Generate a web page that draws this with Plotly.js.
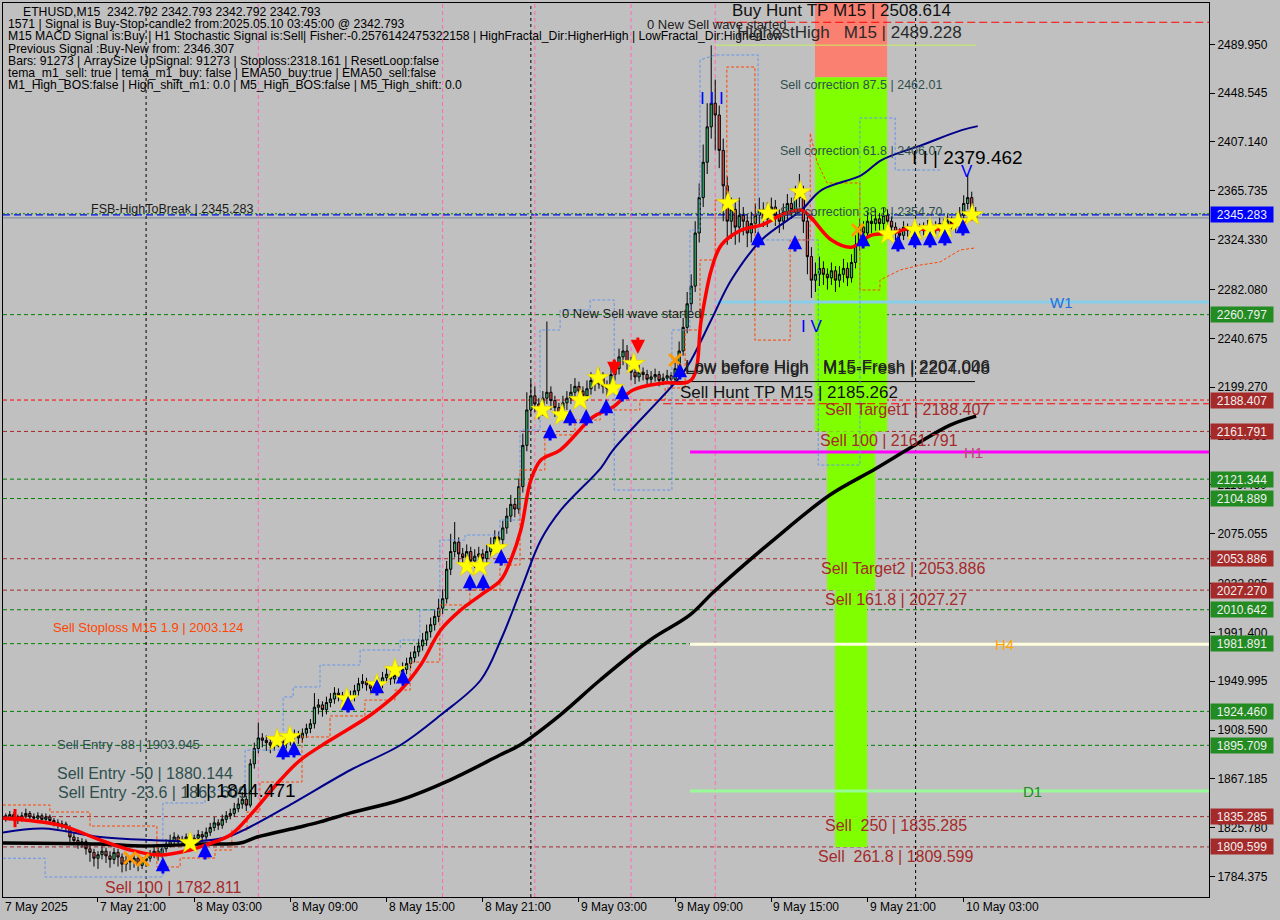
<!DOCTYPE html>
<html><head><meta charset="utf-8">
<script src="https://cdn.plot.ly/plotly-3.0.1.min.js"></script>
<style>html,body{margin:0;padding:0;background:#c0c0c0;}#chart{width:1280px;height:920px;}</style>
</head><body><div id="chart"></div>
<script>
// ---------- candles (M15 bars, bar 0 = 7 May 15:00) ----------
const close = [1836,1834,1837,1835,1833,1836,1838,1835,1834,1836,1833,1835,
1832,1830,1828,1829,1826,1818,1815,1812,1814,1808,1805,1800,1803,1806,
1802,1799,1805,1801,1795,1798,1797,1800,1794,1798,1800,1804,1806,1803,1808,
1812,1815,1818,1814,1816,1818,1815,1817,1820,1818,1822,
1826,1830,1828,1833,1836,1838,1842,1846,1850,1845,1880,1893,1902,
1900,1898,1896,1899,1901,1897,1900,1903,1905,1902,1906,1910,1914,1928,1930,1926,
1932,1935,1940,1938,1936,1934,1937,1942,1948,1950,1947,1944,1945,1948,
1953,1956,1952,1955,1958,1960,1965,1970,1975,1980,1985,1992,1998,2005,2012,2020,
2045,2060,2068,2058,2055,2060,2052,2056,2058,2054,2060,2066,2072,2070,
2080,2090,2100,2096,2115,2150,2180,2192,2185,2180,2190,2195,2188,2182,2178,2186,
2190,2195,2200,2196,2192,2198,2205,2202,2208,2200,2198,2210,2215,2225,2230,2220,2212,
2208,2212,2210,2206,2208,2210,2205,2207,2209,2206,2215,2230,2250,2270,2285,
2330,2360,2390,2420,2440,2430,2400,2370,2340,2350,
2335,2345,2340,2330,2338,2345,2350,2342,2348,2352,2345,2340,2348,2355,2350,2360,2365,
2340,2310,2290,2295,2300,2295,2292,2298,2290,2295,2300,2292,
2305,2320,2335,2330,2340,2338,2342,2338,2345,2340,2335,2330,2328,2335,2332,2330,
2335,2332,2334,2336,2333,2335,2338,2336,2340,2338,2335,2345,2355,2360,2348,2342.793];
const open = [1835,1836,1834,1837,1835,1833,1836,1838,1835,1834,1836,1833,
1835,1832,1830,1828,1829,1826,1818,1815,1812,1814,1808,1805,1800,1803,
1806,1802,1799,1805,1801,1795,1798,1797,1800,1794,1798,1800,1804,1806,1803,
1808,1812,1815,1818,1814,1816,1818,1815,1817,1820,1818,
1822,1826,1830,1828,1833,1836,1838,1842,1846,1850,1845,1880,1893,
1902,1900,1898,1896,1899,1901,1897,1900,1903,1905,1902,1906,1910,1914,1928,1930,
1926,1932,1935,1940,1938,1936,1934,1937,1942,1948,1950,1947,1944,1945,
1948,1953,1956,1952,1955,1958,1960,1965,1970,1975,1980,1985,1992,1998,2005,2012,
2020,2045,2060,2068,2058,2055,2060,2052,2056,2058,2054,2060,2066,2072,
2070,2080,2090,2100,2096,2115,2150,2180,2192,2185,2180,2190,2195,2188,2182,2178,
2186,2190,2195,2200,2196,2192,2198,2205,2202,2208,2200,2198,2210,2215,2225,2230,2220,
2212,2208,2212,2210,2206,2208,2210,2205,2207,2209,2206,2215,2230,2250,2270,
2285,2330,2360,2390,2420,2440,2430,2400,2370,2340,
2350,2335,2345,2340,2330,2338,2345,2350,2342,2348,2352,2345,2340,2348,2355,2350,2360,
2365,2340,2310,2290,2295,2300,2295,2292,2298,2290,2295,2300,
2292,2305,2320,2335,2330,2340,2338,2342,2338,2345,2340,2335,2330,2328,2335,2332,
2330,2335,2332,2334,2336,2333,2335,2338,2336,2340,2338,2335,2345,2355,2360,2348];
const high = [1839,1838,1840,1839,1837,1839,1842,1840,1838,1839,1838,1838,
1837,1834,1833,1832,1831,1828,1821,1818,1817,1816,1811,1808,1806,1810,
1809,1806,1809,1808,1804,1802,1801,1804,1803,1801,1804,1807,1810,1809,1812,
1816,1820,1822,1820,1819,1821,1820,1820,1824,1823,1826,
1830,1835,1833,1837,1840,1842,1847,1851,1856,1853,1884,1898,1915,
1906,1904,1902,1903,1906,1904,1905,1908,1909,1908,1910,1914,1918,1940,1935,1933,
1937,1940,1945,1944,1941,1939,1942,1947,1953,1956,1953,1950,1950,1953,
1958,1962,1959,1960,1963,1966,1970,1975,1980,1986,1991,1998,2004,2011,2020,2028,
2052,2075,2085,2072,2063,2066,2064,2062,2064,2062,2066,2072,2078,2077,
2086,2097,2108,2105,2122,2160,2195,2205,2200,2190,2196,2255,2200,2192,2186,2192,
2196,2202,2207,2204,2200,2205,2212,2209,2215,2212,2205,2218,2222,2232,2240,2235,2225,
2216,2218,2216,2214,2213,2215,2213,2211,2214,2212,2220,2238,2258,2280,2295,
2340,2372,2405,2440,2489,2460,2438,2410,2378,2360,
2356,2360,2352,2346,2348,2355,2360,2356,2356,2360,2358,2350,2355,2363,2360,2370,2380,
2370,2345,2318,2305,2310,2306,2300,2305,2302,2302,2308,2305,
2312,2328,2342,2340,2348,2346,2350,2347,2352,2350,2344,2339,2334,2340,2338,2336,
2340,2338,2339,2341,2339,2340,2343,2342,2346,2344,2342,2352,2362,2380,2365,2352];
const low = [1831,1831,1832,1832,1829,1831,1834,1832,1831,1832,1830,1831,
1829,1827,1825,1825,1822,1812,1811,1808,1809,1803,1797,1793,1791,1799,
1796,1792,1795,1793,1788,1789,1790,1792,1789,1791,1794,1797,1800,1798,1800,
1805,1809,1812,1810,1811,1813,1811,1812,1814,1814,1815,
1819,1823,1824,1825,1830,1833,1835,1839,1842,1840,1843,1876,1889,
1894,1891,1889,1891,1894,1891,1893,1896,1899,1897,1898,1902,1906,1910,1922,1920,
1922,1928,1931,1933,1931,1929,1930,1933,1938,1944,1942,1939,1940,1941,
1944,1949,1947,1948,1951,1953,1956,1961,1966,1971,1976,1980,1987,1993,2000,2007,
2016,2040,2055,2050,2047,2049,2045,2046,2050,2047,2049,2055,2060,2063,
2066,2075,2085,2089,2092,2110,2145,2175,2178,2172,2175,2185,2180,2174,2170,2173,
2180,2185,2190,2189,2186,2188,2193,2196,2198,2194,2192,2195,2205,2210,2218,2214,2205,
2202,2204,2205,2201,2202,2204,2200,2201,2203,2200,2202,2211,2226,2245,2264,
2280,2322,2352,2380,2410,2400,2385,2340,2320,2325,
2320,2322,2328,2318,2322,2330,2336,2335,2335,2340,2336,2330,2333,2340,2342,2345,2352,
2330,2295,2275,2280,2285,2286,2282,2286,2280,2284,2288,2285,
2288,2300,2315,2322,2325,2330,2332,2331,2333,2333,2328,2324,2322,2324,2327,2325,
2326,2327,2328,2330,2328,2329,2331,2331,2332,2333,2330,2332,2340,2350,2342,2340];
const barIdx = close.map((_, i) => i);

// ---------- indicator lines (bar index, price) ----------
const redX = [0.3,14.5,24.5,32,39.5,47,50.8,57,62,69.5,74.5,82,92,99.5,104.5,109.5,114.5,119.5,124.5,127,129.5,132,134.5,139.3,147.5,152.5,157.5,165,172,174.5,177,179.5,184.5,189.5,194.5,199.5,202,207,212,217,222,227,232,237,242.5];
const redY = [1834,1828.1,1815.5,1807,1802.7,1807,1811.2,1819.7,1836.6,1866.3,1883.3,1900.2,1921.4,1942.6,1963.8,1993.5,2010.4,2023.1,2035.8,2052.8,2078.2,2120.6,2137.5,2146,2174,2182.5,2196.9,2202.8,2205.4,2256,2298.5,2319.7,2332.4,2336.6,2345.1,2349.4,2342.6,2324,2318,2328.2,2329.9,2334.2,2332.5,2336.7,2342.6];
const navyX = [0.3,10.3,24.5,37,49.5,56.2,61.9,72.7,87,99.5,109.5,119.5,124.5,129.5,134.5,139.5,149.5,152.5,169.2,172,177,182,189.5,199.5,204.5,214.5,219.5,229.5,239.5,243.5];
const navyY = [1821.8,1825.2,1818,1815.5,1814.6,1818,1826.5,1846.8,1874.8,1896,1921.4,1951.1,1985,2027.4,2069.7,2095.2,2131,2146,2208,2222.3,2256.2,2290.1,2324,2349.4,2366.4,2379.1,2391.8,2404.5,2417.2,2420.6];
const blackX = [0.3,24.5,35.2,49.5,59.5,63.7,74.4,79.4,87,99.4,111.8,124.3,129.3,139.3,149.3,161.8,171.7,177.6,192.5,206.6,217.9,226.6,236.6,243.1];
const blackY = [1812.9,1812,1810.4,1812,1812.9,1818,1826.5,1830.8,1838.5,1849.4,1866.3,1887.5,1896,1921.4,1951.1,1985,2006.2,2025.7,2069.7,2107.9,2129.9,2147.7,2167.2,2174.8];
const blueStepX = [0.3,10.8,10.8,40.2,40.2,50.7,50.7,60.7,60.7,70.2,70.2,72.7,72.7,79.4,79.4,89.4,89.4,99.4,99.4,104.3,104.3,109.3,109.3,115.6,115.6,124.3,124.3,129.3,129.3,134.3,134.3,139.3,139.3,146.8,146.8,152.8,152.8,167.2,167.2,171.7,171.7,174.2,174.2,178,188.7,188.7,203.7,203.7,214.1,214.1,222.9,222.9,234.1];
const blueStepY = [1800,1800,1784.1,1784.1,1846.8,1846.8,1857.9,1857.9,1891.7,1891.7,1936.7,1936.7,1945.2,1945.2,1963.8,1963.8,1976.5,1976.5,1985,1985,2010.4,2010.4,2069.7,2069.7,2074,2074,2086.7,2086.7,2163,2163,2247.8,2247.8,2264.7,2264.7,2273.2,2273.2,2112.1,2112.1,2247.8,2247.8,2332.5,2332.5,2476.6,2480.9,2480.9,2324.1,2324.1,2133.3,2133.3,2427.5,2427.5,2383.4,2383.4];
const orangeStepX = [0.3,12,12,22,22,38.7,38.7,44.5,44.5,53.2,53.2,57.4,57.4,61.2,61.2,64.4,64.4,74.9,74.9,81.9,81.9,90.6,90.6,98.1,98.1,101.9,101.9,109.3,109.3,116.8,116.8,124.3,124.3,129.3,129.3,135.5,135.5,143,143,149.3,149.3,159.2,159.2,165.5,165.5,170.5,170.5,174.2,174.2,178,178,180.9,180.9,187.9,187.9,196.7,196.7,201.7,201.7,203.4,205.9,214.1,214.1,219.1,219.1,224.1,229.1,234.1,239.1,242.8];
const orangeStepY = [1845.1,1845.1,1839.2,1839.2,1827.3,1827.3,1792.6,1792.6,1800.2,1800.2,1807,1807,1823.9,1823.9,1839.2,1839.2,1864.6,1864.6,1902.8,1902.8,1920.6,1920.6,1934.1,1934.1,1942.6,1942.6,1966.3,1966.3,2014.7,2014.7,2027.4,2027.4,2048.6,2048.6,2129.1,2129.1,2158.8,2158.8,2171.5,2171.5,2180,2180,2188.4,2188.4,2198.6,2198.6,2247.8,2247.8,2307.1,2307.1,2357.9,2357.9,2470.7,2470.7,2239.2,2239.2,2324.1,2324.1,2414.8,2390.2,2372.4,2372.4,2281.7,2281.7,2290.1,2298.6,2302.8,2305.4,2315.6,2317.3];

// ---------- signal markers ----------
const starX = [47,68.7,71.9,86.1,93.6,98.1,116.1,119.3,123.6,134.8,139.8,144.3,148.8,152.5,157.7,181.2,191.2,199.2,221.1,227.8,231.6,235.3,238.6,242.1];
const starY = [1812.9,1900.2,1902.8,1935,1946.9,1959.6,2047.7,2047.7,2063,2180,2175.7,2188.4,2207.1,2198.6,2219,2355.4,2346.9,2364.7,2329.1,2332.5,2333.4,2334.2,2339.3,2345.2];
const upX = [40.2,50.7,70.2,72.9,86.4,93.6,100.1,116.8,120.1,124.6,136.8,141.8,145.8,150.8,154.8,169.2,188.7,197.9,214.9,223.6,227.8,231.6,235.3,239.8];
const upY = [1793.4,1805.3,1890,1891.7,1929.9,1944.3,1952.5,2033.3,2033.3,2054.5,2160.4,2173.1,2173.1,2181.6,2193.5,2212.2,2324.1,2320.7,2323.2,2320.7,2324.1,2324.1,2325.8,2334.2];
const downX = [152.8,158.7];
const downY = [2216.4,2235.1];
const crossX = [32,35.2,168,213.6];
const crossY = [1800.2,1798.5,2222.3,2332.5];
const plusX = [3.3];
const plusY = [1834];

// ---------- horizontal levels ----------
const levelPrice = [2345.283,2260.797,2188.407,2161.791,2121.344,2104.889,2053.886,2027.270,2010.642,1981.891,1924.460,1895.709,1835.285,1809.599];
const levelKind  = ['blue','green','red','brown','green','green','brown','brown','green','green','green','green','brown','brown'];
const bidPrice = 2342.793;
const prevSignal = 2346.307;
const sellHuntTP = 2185.262;
const highestHigh = 2489.228;
const lowBeforeHigh = 2204.048;
const buyHuntTP = 2508.614;
const tfLevelName = ['W1','H1','H4','D1'];
const tfLevelPrice = [2271.5,2144.35,1981.3,1857.0];
const zonePriceLo = [2462.01,2161.791,2027.27,1809.599];
const zonePriceHi = [2560,2462.01,2161.791,2027.27];

// ---------- axes ----------
const yTicks = [2489.950,2448.545,2407.140,2365.735,2324.330,2282.080,2240.675,2199.270,2157.865,2116.460,2075.055,2032.805,1991.400,1949.995,1908.590,1867.185,1825.780,1784.375];
const xTickBars = [0,24,48,72,96,120,144,168,192,216,240];
const xTickText = ['7 May 2025','7 May 21:00','8 May 03:00','8 May 09:00','8 May 15:00','8 May 21:00','9 May 03:00','9 May 09:00','9 May 15:00','9 May 21:00','10 May 03:00'];
const daySepBars = [36,132,228];
const signalBars = [64,110,133,157,178];

const infoLines = [
 'ETHUSD,M15  2342.792 2342.793 2342.792 2342.793',
 '1571 | Signal is Buy-Stop-candle2 from:2025.05.10 03:45:00 @ 2342.793',
 'M15 MACD Signal is:Buy | H1 Stochastic Signal is:Sell| Fisher:-0.2576142475322158 | HighFractal_Dir:HigherHigh | LowFractal_Dir:HigherLow',
 'Previous Signal :Buy-New from: 2346.307',
 'Bars: 91273 | ArraySize UpSignal: 91273 | Stoploss:2318.161 | ResetLoop:false',
 'tema_m1_sell: true | tema_m1_buy: false | EMA50_buy:true | EMA50_sell:false',
 'M1_High_BOS:false | High_shift_m1: 0.0 | M5_High_BOS:false | M5_High_shift: 0.0'
];

// ---------- build ----------
const FONT = 'Liberation Sans, Arial, sans-serif';
const PL = 3, PR = 1209, PT = 3, PB = 897;
const PX = x => (x - PL) / (PR - PL);
const PY = y => 1 - (y - PT) / (PB - PT);
const NB = s => s.replace(/ /g, '\u00a0');

const traces = [];
traces.push({type:'candlestick', x:barIdx, open:open, high:high, low:low, close:close,
  increasing:{line:{color:'#000000', width:1}, fillcolor:'#3CB371'},
  decreasing:{line:{color:'#000000', width:1}, fillcolor:'#D9534F'},
  whiskerwidth:0, hoverinfo:'skip'});
traces.push({type:'scatter', mode:'lines', x:blueStepX, y:blueStepY, line:{color:'#6495ED', width:1, dash:'3px,2px'}, hoverinfo:'skip'});
traces.push({type:'scatter', mode:'lines', x:orangeStepX, y:orangeStepY, line:{color:'#FF4500', width:1, dash:'3px,2px'}, hoverinfo:'skip'});
traces.push({type:'scatter', mode:'lines', x:blackX, y:blackY, line:{color:'#000000', width:3.5, shape:'spline'}, hoverinfo:'skip'});
traces.push({type:'scatter', mode:'lines', x:navyX, y:navyY, line:{color:'#00008B', width:2, shape:'spline'}, hoverinfo:'skip'});
traces.push({type:'scatter', mode:'lines', x:redX, y:redY, line:{color:'#FF0000', width:3.5, shape:'spline'}, hoverinfo:'skip'});
traces.push({type:'scatter', mode:'markers', x:crossX, y:crossY, marker:{symbol:'x-thin', size:12, color:'#FF9900', line:{color:'#FF9900', width:3}}, hoverinfo:'skip'});
traces.push({type:'scatter', mode:'markers', x:plusX, y:plusY, marker:{symbol:'cross-thin', size:13, color:'#FF0000', line:{color:'#FF0000', width:3}}, hoverinfo:'skip'});
traces.push({type:'scatter', mode:'markers', x:starX, y:starY, marker:{symbol:'star', size:17, color:'#FFFF00', line:{color:'#E0C000', width:0.5}}, hoverinfo:'skip'});

const shapes = [];
const lineStyle = {
  blue:{color:'#0000FF', dash:'7px,4px', width:1.2},
  green:{color:'#008000', dash:'4px,3px', width:1},
  red:{color:'#FF0000', dash:'4px,3px', width:1},
  brown:{color:'#A52A2A', dash:'4px,3px', width:1}
};
const boxColor = {blue:'#0000FF', green:'#228B22', red:'#A52A2A', brown:'#A52A2A'};
levelPrice.forEach((p, i) => {
  shapes.push({type:'line', layer:'below', xref:'paper', x0:0, x1:1, yref:'y', y0:p, y1:p, line:lineStyle[levelKind[i]]});
});
shapes.push({type:'line', layer:'below', xref:'paper', x0:0, x1:1, yref:'y', y0:prevSignal, y1:prevSignal, line:{color:'#008000', width:1, dash:'2px,2px'}});
shapes.push({type:'line', layer:'below', xref:'paper', x0:0, x1:1, yref:'y', y0:bidPrice, y1:bidPrice, line:{color:'#778899', width:1}});
daySepBars.forEach(b => shapes.push({type:'line', layer:'below', xref:'x', x0:b, x1:b, yref:'paper', y0:0, y1:1, line:{color:'#000000', width:1, dash:'3px,3px'}}));
signalBars.forEach(b => shapes.push({type:'line', layer:'below', xref:'x', x0:b, x1:b, yref:'paper', y0:0, y1:1, line:{color:'#FF69B4', width:1, dash:'4px,3px'}}));
const zoneX = [[202.9,220.9],[202.9,220.9],[205.9,217.9],[207.9,215.9]];
const zoneCol = ['#FA8072','#7FFF00','#7FFF00','#7FFF00'];
zonePriceLo.forEach((lo, i) => {
  shapes.push({type:'rect', layer:'below', xref:'x', yref:'y', x0:zoneX[i][0], x1:zoneX[i][1], y0:lo, y1:zonePriceHi[i], fillcolor:zoneCol[i], line:{width:0}});
});
shapes.push({type:'line', layer:'below', xref:'x', x0:165, x1:301.2, yref:'y', y0:sellHuntTP, y1:sellHuntTP, line:{color:'#FF0000', width:1, dash:'8px,4px'}});
shapes.push({type:'line', layer:'below', xref:'x', x0:178, x1:301.2, yref:'y', y0:buyHuntTP, y1:buyHuntTP, line:{color:'#FF0000', width:1, dash:'8px,4px'}});
shapes.push({type:'line', layer:'below', xref:'x', x0:178, x1:243, yref:'y', y0:highestHigh, y1:highestHigh, line:{color:'#C8F060', width:1}});
shapes.push({type:'line', layer:'below', xref:'x', x0:167.2, x1:242.8, yref:'y', y0:lowBeforeHigh, y1:lowBeforeHigh, line:{color:'#000000', width:1}});
const tfColor = ['#87CEEB','#FF00FF','#FFFFE0','#98FB98'];
const tfStart = [178,171.7,171.7,171.7];
tfLevelPrice.forEach((p, i) => {
  shapes.push({type:'line', layer:'below', xref:'x', x0:tfStart[i], x1:301.2, yref:'y', y0:p, y1:p, line:{color:tfColor[i], width:3}});
});

const ann = [];
// signal arrows (stem + head), anchored at the data points
upX.forEach((x, i) => ann.push({x:x, y:upY[i], xref:'x', yref:'y', text:'', showarrow:true, ax:0, ay:18, yshift:9,
  arrowhead:2, arrowsize:0.95, arrowwidth:3, arrowcolor:'#0000FF', standoff:0, startstandoff:0}));
downX.forEach((x, i) => ann.push({x:x, y:downY[i], xref:'x', yref:'y', text:'', showarrow:true, ax:0, ay:-18, yshift:-9,
  arrowhead:2, arrowsize:0.95, arrowwidth:3, arrowcolor:'#FF0000', standoff:0, startstandoff:0}));

function addText(text, x, y, size, color){
  ann.push({text:NB(text), xref:'paper', yref:'paper', x:PX(x), y:PY(y), xanchor:'left', yanchor:'middle',
    showarrow:false, font:{family:FONT, size:size, color:color}});
}
infoLines.forEach((t, i) => addText(t, i === 0 ? 21 : 6, 12 + i * 12.2, 12.2, '#000000'));
addText('Buy Hunt TP M15 | 2508.614', 730, 10, 17, '#111111');
addText('0 New Sell wave started', 645, 24, 13, '#222222');
addText('HighestHigh   M15 | 2489.228', 735, 33, 17, '#2a2a2a');
addText('Sell correction 87.5 | 2462.01', 778, 85, 12.5, '#2F4F4F');
addText('Sell correction 61.8 | 2406.07', 778, 151, 12.5, '#2F4F4F');
addText('Sell correction 38.2 | 2354.70', 778, 212, 12.5, '#2F4F4F');
addText('I I | 2379.462', 910, 158, 19, '#000000');
addText('I I I', 698, 98, 17, '#0000FF');
addText('V', 959, 172, 17, '#0000FF');
addText('I V', 799, 326, 17, '#0000FF');
addText('0 New Sell wave started', 560, 314, 13, '#222222');
addText('Low before High   M15-Fresh | 2207.006', 683, 366, 17, '#222222');
addText('Low before High   M15-Fresh | 2204.048', 683, 369, 17, '#222222');
addText('Sell Hunt TP M15 | 2185.262', 678, 392, 17, '#111111');
addText('Sell Target1 | 2188.407', 823, 409, 16, '#A52A2A');
addText('Sell 100 | 2161.791', 818, 440, 16, '#A52A2A');
addText('Sell Target2 | 2053.886', 819, 568, 16, '#A52A2A');
addText('Sell 161.8 | 2027.27', 823, 599, 16, '#A52A2A');
addText('Sell  250 | 1835.285', 823, 825, 16, '#A52A2A');
addText('Sell  261.8 | 1809.599', 816, 856, 16, '#A52A2A');
addText('Sell Stoploss M15 1.9 | 2003.124', 51, 627, 13, '#FF4500');
addText('Sell Entry -88 | 1903.945', 55, 744, 13, '#2F4F4F');
addText('Sell Entry -50 | 1880.144', 55, 773, 16, '#2F4F4F');
addText('Sell Entry -23.6 | 1863.609', 56, 792, 16, '#2F4F4F');
addText('I I | 1844.471', 183, 790, 19, '#000000');
addText('Sell 100 | 1782.811', 103, 887, 16, '#A52A2A');
addText('FSB-HighToBreak | 2345.283', 89, 209, 12.5, '#1a1a1a');
const tfLabelX = [1048,962,993,1021];
const tfLabelCol = ['#1E6FD9','#C0407A','#FFA500','#228B22'];
tfLevelName.forEach((n, i) => ann.push({text:n, xref:'paper', yref:'y', x:PX(tfLabelX[i]), y:tfLevelPrice[i], xanchor:'left', yanchor:'middle', showarrow:false, font:{family:FONT, size:15, color:tfLabelCol[i]}}));
levelPrice.forEach((p, i) => ann.push({text:p.toFixed(3), xref:'paper', yref:'y', x:PX(1210), y:p, xanchor:'left', yanchor:'middle',
  showarrow:false, bgcolor:boxColor[levelKind[i]], width:60, height:13, borderpad:1, font:{family:FONT, size:12, color:'#F0F0F0'}}));
xTickBars.forEach((b, i) => ann.push({text:xTickText[i], xref:'x', yref:'paper', x:b + (i === 0 ? 0.3 : 0), y:PY(907), xanchor:'left', yanchor:'middle',
  showarrow:false, font:{family:FONT, size:12, color:'#000000'}}));

const layout = {
  width:1280, height:920,
  margin:{l:PL, r:1280 - PR, t:PT, b:920 - PB, pad:0},
  paper_bgcolor:'#c0c0c0', plot_bgcolor:'#c0c0c0',
  showlegend:false, hovermode:false, boxgap:0.2,
  xaxis:{range:[0.3, 301.2], showgrid:false, zeroline:false, showline:true, mirror:true, linecolor:'#000000', linewidth:1,
    tickvals:xTickBars, ticks:'outside', ticklen:4, tickcolor:'#000000', showticklabels:false, rangeslider:{visible:false}, fixedrange:true},
  yaxis:{range:[1767.15, 2524.96], side:'right', showgrid:false, zeroline:false, showline:true, mirror:true, linecolor:'#000000', linewidth:1,
    tickvals:yTicks, tickformat:'.3f', ticks:'outside', ticklen:5, tickcolor:'#000000',
    tickfont:{family:FONT, size:12, color:'#000000'}, fixedrange:true},
  shapes:shapes, annotations:ann
};
Plotly.newPlot('chart', traces, layout, {displayModeBar:false, staticPlot:true});
</script></body></html>
